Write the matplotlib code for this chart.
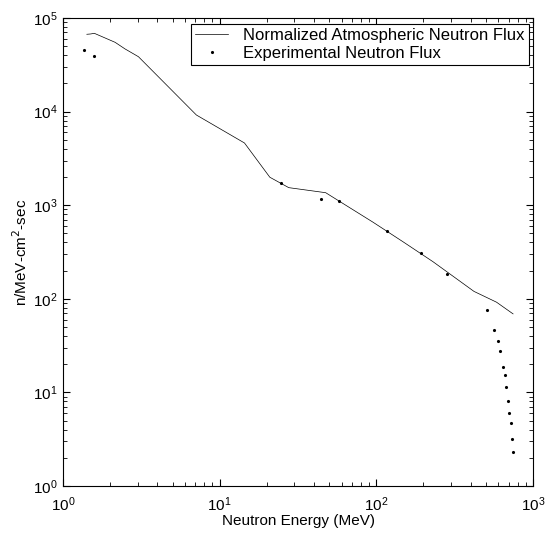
import matplotlib
matplotlib.use("Agg")
import matplotlib.pyplot as plt

plt.rcParams['font.family'] = ['Liberation Sans', 'DejaVu Sans']

# Normalized Atmospheric Neutron Flux (line)
atm_energy = [1.42, 1.50, 1.585, 2.15, 2.49, 3.03, 7.1, 14.4, 20.9, 27.6, 47.5,
              95.4, 147.6, 230, 420, 585, 746]
atm_flux = [67000, 67500, 68600, 55000, 46700, 38600, 9200, 4620, 1990, 1540, 1360,
            657, 408, 249, 120, 92, 69]

# Experimental Neutron Flux (dots)
exp_energy = [1.36, 1.585, 24.8, 44.4, 57.6, 116.8, 192, 281, 510, 565, 600, 618,
              646, 658, 675, 692, 706, 721, 736, 742]
exp_flux = [45500, 39300, 1710, 1160, 1110, 530, 306, 183, 75, 46, 35, 28,
            18.7, 15.3, 11.5, 8.0, 6.0, 4.7, 3.2, 2.3]

fig = plt.figure(figsize=(5.46, 5.34), dpi=100)
ax = fig.add_axes([63/546, 1-486/534, 470/546, 468/534])

ax.plot(atm_energy, atm_flux, '-', color='black', lw=0.5,
        label='Normalized Atmospheric Neutron Flux')
ax.plot(exp_energy, exp_flux, '.', color='black', markersize=2.5, linestyle='none',
        label='Experimental Neutron Flux')

ax.set_xscale('log')
ax.set_yscale('log')
ax.set_xlim(1, 1000)
ax.set_ylim(1, 1e5)

ax.tick_params(which='both', direction='in', top=True, right=True, labelsize=11)
ax.tick_params(axis='x', which='major', pad=7)
ax.tick_params(axis='y', which='major', pad=4)
ax.tick_params(which='major', length=5)
ax.tick_params(which='minor', length=3)
for s in ax.spines.values():
    s.set_linewidth(0.8)

ax.set_xlabel('Neutron Energy (MeV)', fontsize=11, labelpad=0)
ax.set_ylabel('n/MeV-cm$^2$-sec', fontsize=11, labelpad=2)

leg = ax.legend(loc='upper right', bbox_to_anchor=(0.9915, 0.987), borderaxespad=0,
                fontsize=12, frameon=True, fancybox=False, edgecolor='black',
                framealpha=1, labelspacing=0.15, handlelength=2.0,
                handletextpad=0.9, borderpad=0.25)
leg.get_frame().set_linewidth(0.8)

fig.savefig('out.png', dpi=100)
